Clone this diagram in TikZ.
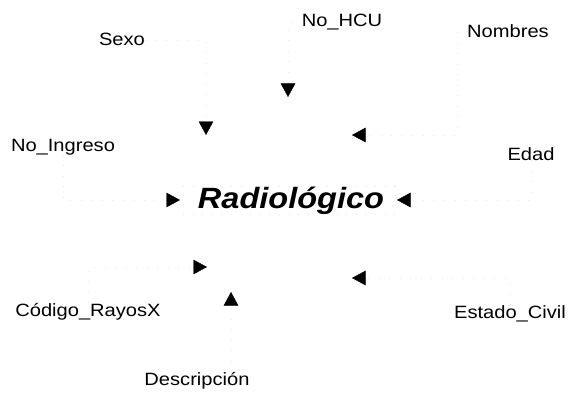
\documentclass[tikz,border=0pt]{standalone}
\usepackage{fontspec}
\usetikzlibrary{arrows.meta}
\newfontfamily\attrfont{Liberation Sans}[FakeStretch=1.13]
\newfontfamily\entfont{Liberation Sans}[FakeStretch=1.11]

\tikzset{
  attr/.style={inner sep=0pt, anchor=base, font=\attrfont\fontsize{17.8}{20}\selectfont},
  entity/.style={inner sep=0pt, anchor=base, font=\entfont\bfseries\itshape\fontsize{29.3}{32}\selectfont},
  entbox/.style={draw=black!10, line width=0.4pt, dash pattern=on 0.6pt off 9pt,
                 minimum width=212pt, minimum height=28pt},
  link/.style={draw=black!8, line width=0.4pt, dash pattern=on 0.5pt off 10pt,
               -{Triangle[length=13.5pt,width=14.5pt,color=black]}},
}

\begin{document}
\begin{tikzpicture}[x=1pt, y=-1pt]
  \useasboundingbox (0,0) rectangle (568,396);

  % entity
  \node[entity] (radio) at (291,208) {Radiológico};
  \node[entbox] (radbox) at (289,200) {};

  % attributes
  \node[attr] (sexo)    at (122,46)  {Sexo};
  \node[attr] (nohcu)   at (342,27)  {No\_HCU};
  \node[attr] (nombres) at (508,38)  {Nombres};
  \node[attr] (noing)   at (63,151)  {No\_Ingreso};
  \node[attr] (edad)    at (531,160) {Edad};
  \node[attr] (codigo)  at (88,316)  {Código\_RayosX};
  \node[attr] (estado)  at (510,318) {Estado\_Civil};
  \node[attr] (desc)    at (197,385) {Descripción};

  % arrow ends
  \coordinate (tSexo) at (206,135);
  \coordinate (tHCU)  at (288,97);
  \coordinate (bNom)  at (457,135);
  \coordinate (tNom)  at (352,135);
  \coordinate (tEdad) at (397,200);
  \coordinate (tIng)  at (180,200);
  \coordinate (tCod)  at (207,267);
  \coordinate (tEst)  at (352,278);
  \coordinate (tDesc) at (231,292);

  % connectors
  \draw[link] (sexo.east) -| (tSexo);
  \draw[link] (nohcu.west) -| (tHCU);
  \draw[link] (nombres.west) -| (bNom) -- (tNom);
  \draw[link] (edad.south) |- (tEdad);
  \draw[link] (noing.south) |- (tIng);
  \draw[link] (codigo.north) |- (tCod);
  \draw[link] (estado.north) |- (tEst);
  \draw[link] (desc.north -| tDesc) -- (tDesc);
\end{tikzpicture}
\end{document}
